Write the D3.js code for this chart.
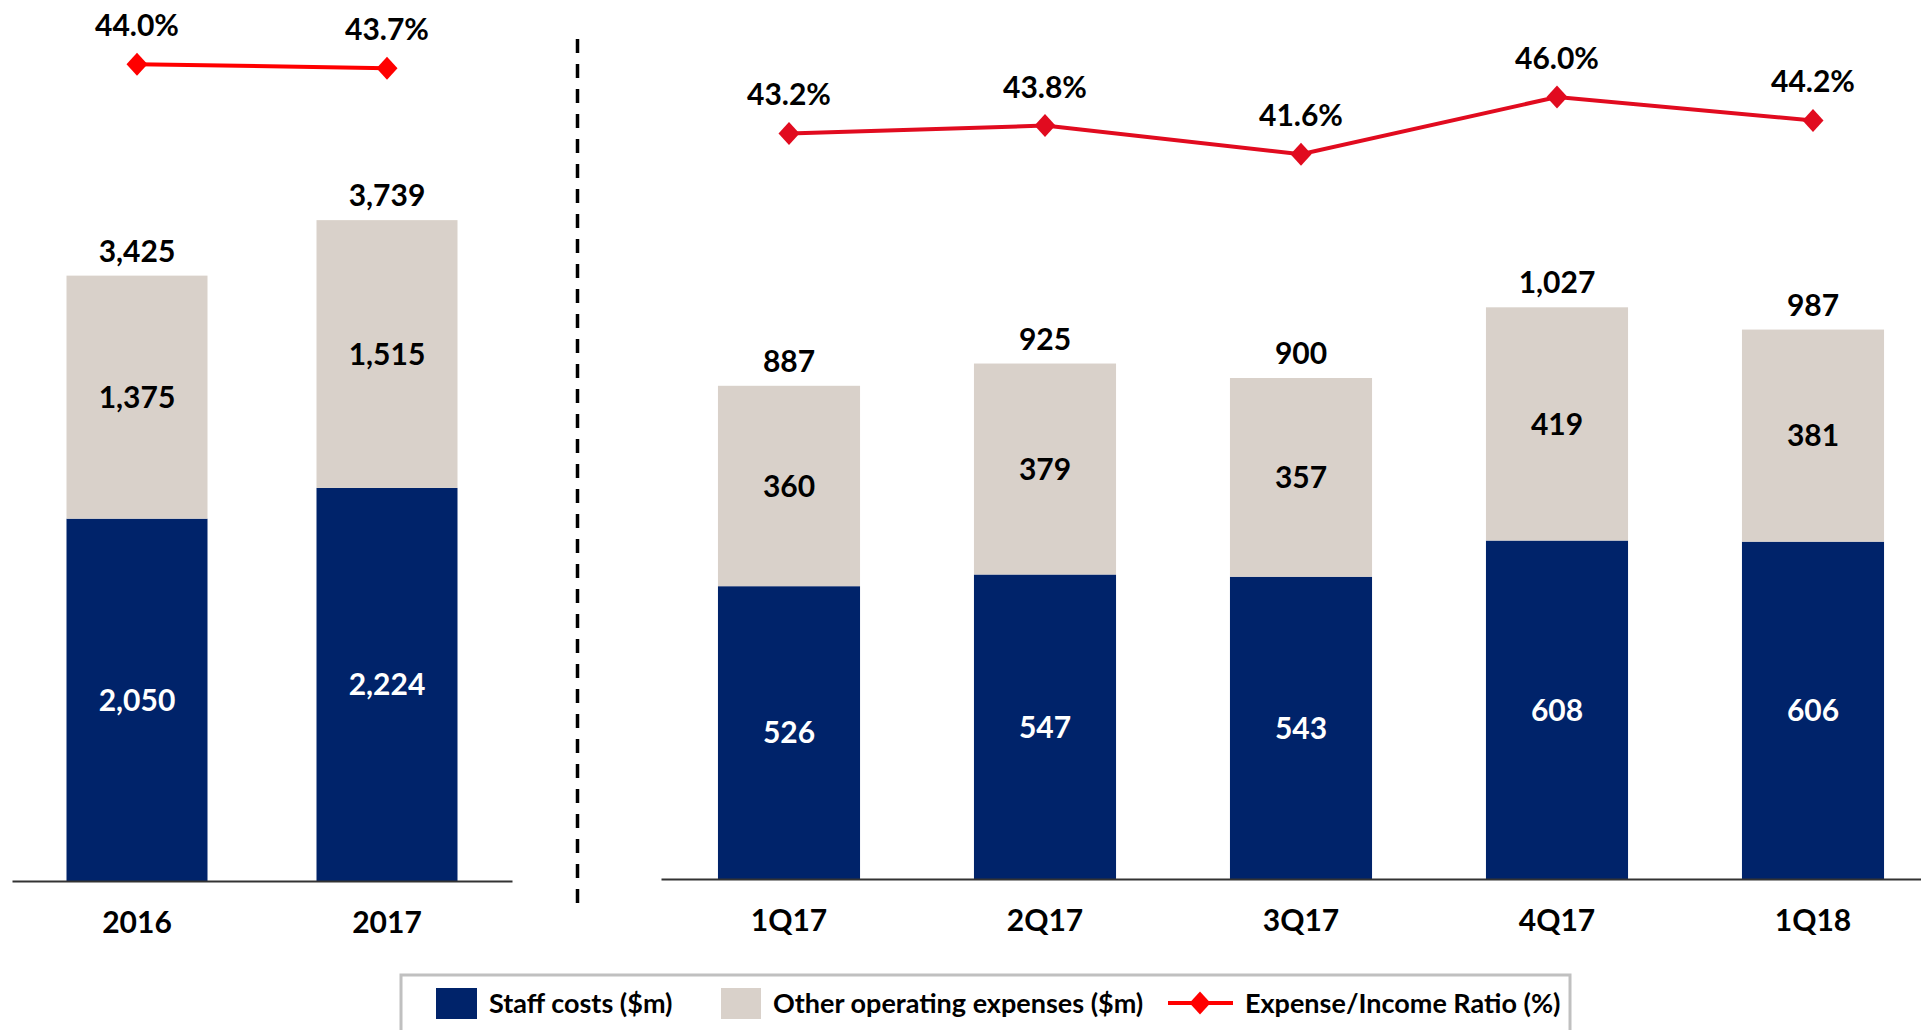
<!DOCTYPE html>
<html lang="en">
<head>
    <meta charset="UTF-8">
    <title>Operating Expenses and Expense/Income Ratio</title>
    <script src="https://d3js.org/d3.v7.min.js"></script>
    <style>
        body { margin: 0; background: #fff; }
        svg text {
            font-family: Lato, "Open Sans", sans-serif;
            font-weight: bold;
        }
        .axis text { font-size: 30px; fill: #000; }
        .axis path { stroke: #333; stroke-width: 2px; }
        .val { font-size: 30px; text-anchor: middle; }
        .legend text { font-size: 27px; fill: #000; }
    </style>
</head>
<body>
<script>
    // Annual data
    const yearCats = ["2016", "2017"];
    const yearStaff = [2050, 2224];
    const yearOther = [1375, 1515];
    const yearTotal = [3425, 3739];
    const yearRatio = [44.0, 43.7];

    // Quarterly data
    const qCats = ["1Q17", "2Q17", "3Q17", "4Q17", "1Q18"];
    const qStaff = [526, 547, 543, 608, 606];
    const qOther = [360, 379, 357, 419, 381];
    const qTotal = [887, 925, 900, 1027, 987];
    const qRatio = [43.2, 43.8, 41.6, 46.0, 44.2];

    const legendLabels = ["Staff costs ($m)", "Other operating expenses ($m)", "Expense/Income Ratio (%)"];

    const navy = "#00236a";
    const grey = "#d9d1ca";

    const svg = d3.select("body")
        .append("svg")
        .attr("width", 1921)
        .attr("height", 1030);

    const fmt = d3.format(",");

    function diamond(g, x, y, color) {
        g.append("path")
            .attr("d", `M${x},${y - 11.5} L${x + 10.5},${y} L${x},${y + 11.5} L${x - 10.5},${y} Z`)
            .attr("fill", color);
    }

    function drawPanel(p) {
        const g = svg.append("g");

        // x scale
        const x = d3.scaleBand()
            .domain(p.cats)
            .range(p.xRange)
            .paddingInner(p.padIn)
            .paddingOuter(p.padIn / 2);

        // bar scale
        const y = d3.scaleLinear()
            .domain([0, p.yMax])
            .range([p.base, p.yTop]);

        // ratio scale
        const r = d3.scaleLinear()
            .domain([40, 50])
            .range(p.rRange);

        const rows = p.cats.map((c, i) => ({
            cat: c, staff: p.staff[i], other: p.other[i], total: p.total[i], ratio: p.ratio[i]
        }));

        // Staff bars
        g.selectAll(".staff")
            .data(rows)
            .enter()
            .append("rect")
            .attr("x", d => x(d.cat))
            .attr("y", d => y(d.staff))
            .attr("width", x.bandwidth())
            .attr("height", d => y(0) - y(d.staff))
            .attr("fill", navy);

        // Other bars on top
        g.selectAll(".other")
            .data(rows)
            .enter()
            .append("rect")
            .attr("x", d => x(d.cat))
            .attr("y", d => y(d.staff + d.other))
            .attr("width", x.bandwidth())
            .attr("height", d => y(d.staff) - y(d.staff + d.other))
            .attr("fill", grey);

        // axis
        g.append("g")
            .attr("class", "axis")
            .attr("transform", `translate(0,${p.base})`)
            .call(d3.axisBottom(x).tickSize(0).tickSizeOuter(0).tickPadding(31));

        const cx = d => x(d.cat) + x.bandwidth() / 2;

        // labels in segments
        g.selectAll(".lblStaff")
            .data(rows)
            .enter()
            .append("text")
            .attr("class", "val")
            .attr("x", cx)
            .attr("y", d => (y(0) + y(d.staff)) / 2)
            .attr("dy", ".36em")
            .attr("fill", "#fff")
            .text(d => fmt(d.staff));

        g.selectAll(".lblOther")
            .data(rows)
            .enter()
            .append("text")
            .attr("class", "val")
            .attr("x", cx)
            .attr("y", d => (y(d.staff) + y(d.staff + d.other)) / 2)
            .attr("dy", ".36em")
            .attr("fill", "#000")
            .text(d => fmt(d.other));

        g.selectAll(".lblTotal")
            .data(rows)
            .enter()
            .append("text")
            .attr("class", "val")
            .attr("x", cx)
            .attr("y", d => y(d.staff + d.other) - 14)
            .attr("fill", "#000")
            .text(d => fmt(d.total));

        // ratio line
        const line = d3.line()
            .x(cx)
            .y(d => r(d.ratio));

        g.append("path")
            .datum(rows)
            .attr("d", line)
            .attr("fill", "none")
            .attr("stroke", p.red)
            .attr("stroke-width", 4);

        rows.forEach(d => diamond(g, cx(d), r(d.ratio), p.red));

        g.selectAll(".lblRatio")
            .data(rows)
            .enter()
            .append("text")
            .attr("class", "val")
            .attr("x", cx)
            .attr("y", d => r(d.ratio) - 28)
            .attr("fill", "#000")
            .text(d => d.ratio.toFixed(1) + "%");
    }

    drawPanel({
        cats: yearCats, staff: yearStaff, other: yearOther, total: yearTotal, ratio: yearRatio,
        xRange: [12, 512], padIn: 0.436, base: 881, yMax: 4000, yTop: 174,
        rRange: [117, -15], red: "#ff0000"
    });

    drawPanel({
        cats: qCats, staff: qStaff, other: qOther, total: qTotal, ratio: qRatio,
        xRange: [661, 1941], padIn: 0.445, base: 879, yMax: 1200, yTop: 211,
        rRange: [175, 45], red: "#e10b1f"
    });

    // dashed divider
    svg.append("line")
        .attr("x1", 577.5).attr("x2", 577.5)
        .attr("y1", 39).attr("y2", 912)
        .attr("stroke", "#000")
        .attr("stroke-width", 3.5)
        .attr("stroke-dasharray", "14,11");

    // Legend
    const lg = svg.append("g").attr("class", "legend");
    lg.append("rect")
        .attr("x", 401).attr("y", 975)
        .attr("width", 1169).attr("height", 80)
        .attr("fill", "#fff")
        .attr("stroke", "#c0c0c0")
        .attr("stroke-width", 3);

    lg.append("rect").attr("x", 436).attr("y", 988).attr("width", 41).attr("height", 31).attr("fill", navy);
    lg.append("text").attr("x", 489).attr("y", 1013).text(legendLabels[0]);

    lg.append("rect").attr("x", 721).attr("y", 988).attr("width", 40).attr("height", 31).attr("fill", grey);
    lg.append("text").attr("x", 773).attr("y", 1013).text(legendLabels[1]);

    lg.append("line")
        .attr("x1", 1168).attr("x2", 1233)
        .attr("y1", 1003).attr("y2", 1003)
        .attr("stroke", "#ff0000").attr("stroke-width", 4);
    diamond(lg, 1200, 1003, "#ff0000");
    lg.append("text").attr("x", 1245).attr("y", 1013).text(legendLabels[2]);
</script>
</body>
</html>
